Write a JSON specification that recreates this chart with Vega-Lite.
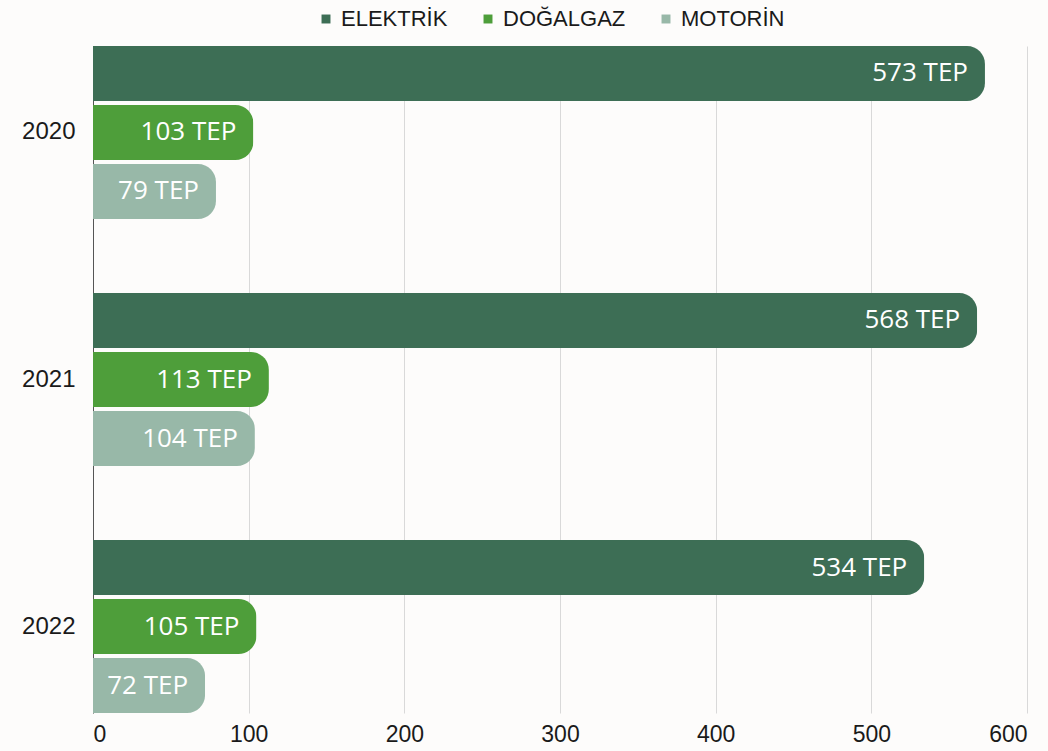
{
  "$schema": "https://vega.github.io/schema/vega-lite/v6.json",
  "autosize": "none",
  "width": 934,
  "height": 667,
  "padding": {"left": 93, "top": 46, "right": 21, "bottom": 38},
  "background": "#fdfcfb",
  "data": {
    "values": [
      {"year": "2020", "series": "ELEKTRİK", "value": 573, "label": "573 TEP"},
      {"year": "2020", "series": "DOĞALGAZ", "value": 103, "label": "103 TEP"},
      {"year": "2020", "series": "MOTORİN", "value": 79, "label": "79 TEP"},
      {"year": "2021", "series": "ELEKTRİK", "value": 568, "label": "568 TEP"},
      {"year": "2021", "series": "DOĞALGAZ", "value": 113, "label": "113 TEP"},
      {"year": "2021", "series": "MOTORİN", "value": 104, "label": "104 TEP"},
      {"year": "2022", "series": "ELEKTRİK", "value": 534, "label": "534 TEP"},
      {"year": "2022", "series": "DOĞALGAZ", "value": 105, "label": "105 TEP"},
      {"year": "2022", "series": "MOTORİN", "value": 72, "label": "72 TEP"}
    ]
  },
  "encoding": {
    "y": {
      "field": "year", "type": "nominal", "title": null,
      "scale": {"paddingInner": 0.3, "paddingOuter": 0},
      "axis": {"ticks": false, "domainColor": "#555555", "domainWidth": 1, "labelFontSize": 24, "labelFont": "Liberation Sans", "labelColor": "#1a1a1a", "labelPadding": 18, "grid": false}
    },
    "yOffset": {
      "field": "series", "type": "nominal",
      "sort": ["ELEKTRİK", "DOĞALGAZ", "MOTORİN"],
      "scale": {"paddingInner": 0.07, "paddingOuter": 0}
    },
    "x": {
      "field": "value", "type": "quantitative", "title": null,
      "scale": {"domain": [0, 600], "nice": false},
      "axis": {"values": [0, 100, 200, 300, 400, 500, 600], "ticks": false, "domain": false, "gridColor": "#d9d9d9", "gridWidth": 1, "labelFontSize": 23, "labelFont": "Liberation Sans", "labelColor": "#1a1a1a", "labelPadding": 10}
    }
  },
  "layer": [
    {
      "mark": {"type": "bar", "cornerRadiusEnd": 18},
      "encoding": {
        "color": {
          "field": "series", "type": "nominal",
          "sort": ["ELEKTRİK", "DOĞALGAZ", "MOTORİN"],
          "scale": {"domain": ["ELEKTRİK", "DOĞALGAZ", "MOTORİN"], "range": ["#3d6e55", "#4e9e3a", "#98b8a8"]},
          "legend": {
            "title": null, "orient": "none", "direction": "horizontal",
            "legendX": 222, "legendY": -38,
            "symbolType": "square", "symbolSize": 80, "symbolStrokeWidth": 0,
            "labelFontSize": 22, "labelFont": "Liberation Sans", "labelColor": "#1a1a1a",
            "columnPadding": 29, "labelOffset": 4
          }
        }
      }
    },
    {
      "mark": {"type": "text", "align": "right", "baseline": "middle", "dx": -17, "color": "#ffffff", "fontSize": 26, "font": "Open Sans"},
      "encoding": {"text": {"field": "label"}}
    }
  ],
  "config": {"view": {"stroke": null}}
}
